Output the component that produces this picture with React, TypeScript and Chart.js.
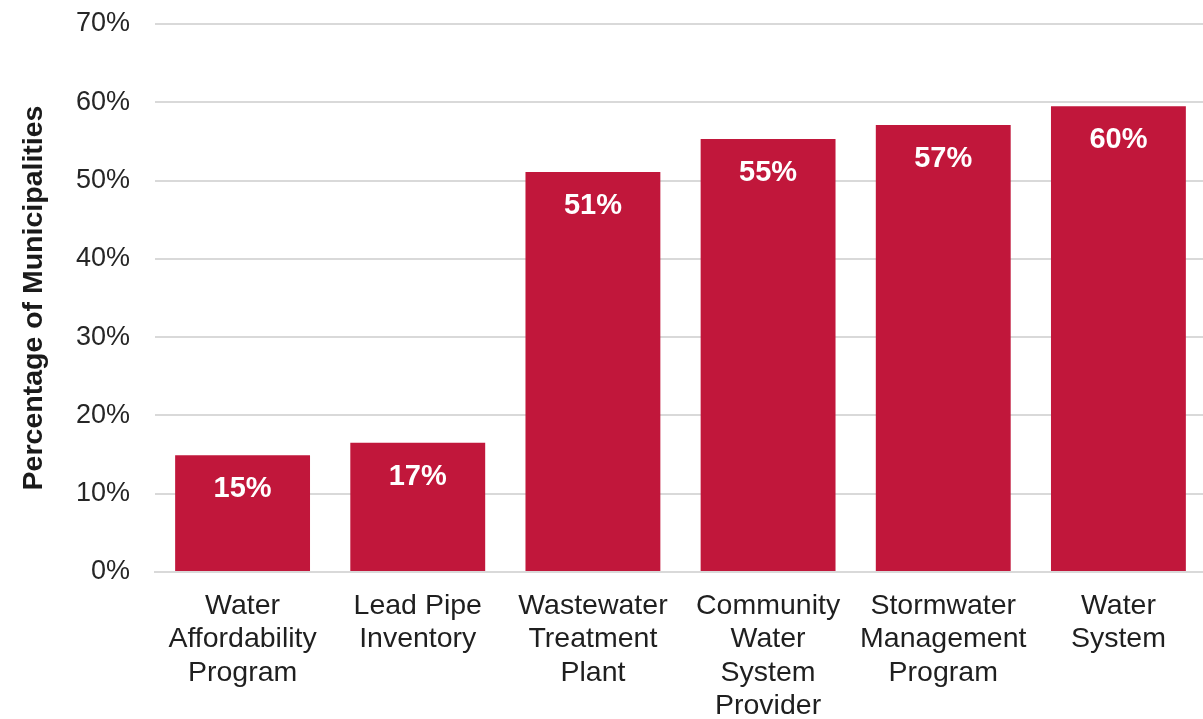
import React, { useEffect, useRef } from "react";
import { Chart, registerables } from "chart.js";

Chart.register(...registerables);

const categories: string[][] = [
  ["Water", "Affordability", "Program"],
  ["Lead Pipe", "Inventory"],
  ["Wastewater", "Treatment", "Plant"],
  ["Community", "Water", "System", "Provider"],
  ["Stormwater", "Management", "Program"],
  ["Water", "System"],
];
const values: number[] = [14.9, 16.5, 51.1, 55.3, 57.1, 59.5];
const yTicks: number[] = [0, 10, 20, 30, 40, 50, 60, 70];

const BAR_COLOR = "#C1173B";
const FONT = "'Liberation Sans', Arial, Helvetica, sans-serif";

const valueLabels = {
  id: "valueLabels",
  afterDatasetsDraw(chart: any) {
    const ctx = chart.ctx;
    const meta = chart.getDatasetMeta(0);
    ctx.save();
    ctx.fillStyle = "#ffffff";
    ctx.font = `bold 29px ${FONT}`;
    ctx.textAlign = "center";
    ctx.textBaseline = "middle";
    meta.data.forEach((bar: any, i: number) => {
      ctx.fillText(`${Math.round(values[i])}%`, bar.x, bar.y + 34);
    });
    ctx.restore();
  },
};

export default function App() {
  const ref = useRef<HTMLCanvasElement | null>(null);
  useEffect(() => {
    document.body.style.margin = "0";
    if (!ref.current) return;
    const chart = new Chart(ref.current, {
      type: "bar",
      data: {
        labels: categories,
        datasets: [
          {
            data: values,
            backgroundColor: BAR_COLOR,
            borderWidth: 0,
            barPercentage: 0.77,
            categoryPercentage: 1,
          },
        ],
      },
      options: {
        animation: false,
        responsive: false,
        maintainAspectRatio: false,
        layout: { padding: { top: 24, left: 0, right: 0, bottom: 0 } },
        plugins: {
          legend: { display: false },
          tooltip: { enabled: false },
        },
        scales: {
          x: {
            grid: { display: false, drawTicks: false },
            border: { display: true, color: "#d9d9d9", width: 2 },
            ticks: {
              color: "#1f1f1f",
              font: { family: FONT, size: 28.5, lineHeight: 1.16 },
              padding: 18,
              maxRotation: 0,
              autoSkip: false,
            },
            afterFit(scale: any) {
              scale.height = 147;
              scale.paddingLeft = 0;
              scale.paddingRight = 0;
            },
          },
          y: {
            min: 0,
            max: 70,
            afterBuildTicks(scale: any) {
              scale.ticks = yTicks.map((v) => ({ value: v }));
            },
            grid: { color: "#d9d9d9", lineWidth: 2, drawTicks: false },
            border: { display: false },
            ticks: {
              color: "#262626",
              font: { family: FONT, size: 27 },
              padding: 25,
              callback: (v: any) => `${v}%`,
            },
            title: {
              display: true,
              text: "Percentage of Municipalities",
              color: "#1a1a1a",
              font: { family: FONT, size: 28.5, weight: "bold" },
              padding: { top: 17, bottom: 0 },
            },
            afterFit(scale: any) {
              scale.width = 155;
              scale.paddingTop = 0;
              scale.paddingBottom = 0;
            },
          },
        },
      },
      plugins: [valueLabels],
    });
    return () => chart.destroy();
  }, []);
  return (
    <div style={{ width: 1203, height: 719, overflow: "hidden", background: "#fff" }}>
      <canvas ref={ref} width={1206} height={719} style={{ display: "block" }} />
    </div>
  );
}
